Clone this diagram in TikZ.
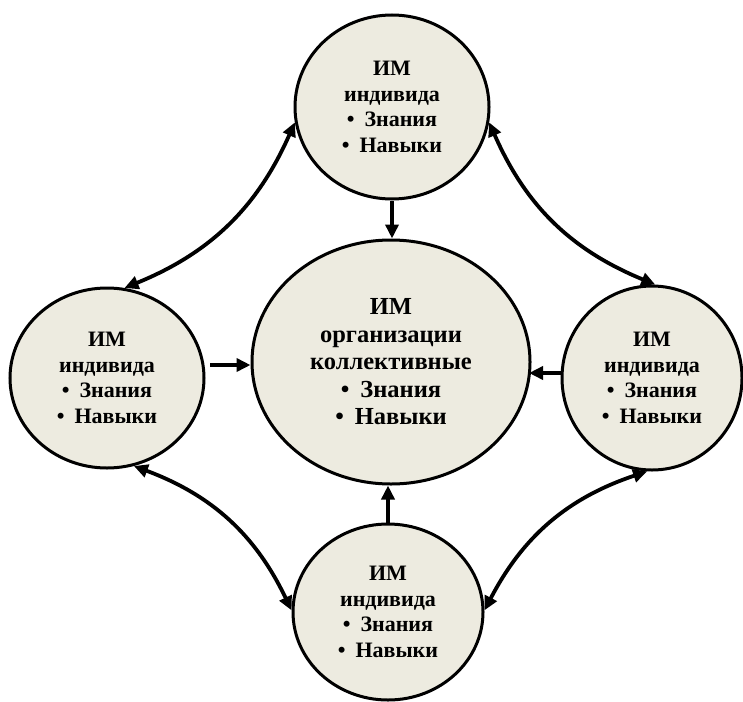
\documentclass[tikz,border=0pt]{standalone}
\usepackage{fontspec}
\setmainfont{Liberation Serif}
\usetikzlibrary{arrows.meta,shapes.geometric}
\definecolor{beige}{RGB}{237,235,224}
\newcommand{\bul}{•\hspace{0.45em}}
\tikzset{
  bubble/.style={ellipse, draw=black, line width=3pt, fill=beige, inner sep=0pt,
    align=center, font=\bfseries\fontsize{22}{25.5}\selectfont},
  bigbubble/.style={bubble, font=\bfseries\fontsize{24.5}{27.5}\selectfont},
  arr/.style={line width=3.8pt, -{Triangle[length=14pt,width=13pt]}},
  darr/.style={line width=3.8pt, {Triangle[length=14pt,width=13pt]}-{Triangle[length=14pt,width=13pt]}}
}
\begin{document}
\begin{tikzpicture}[x=1pt,y=-1pt]
\useasboundingbox (0,0) rectangle (743,701);
\node[bubble, minimum width=194pt, minimum height=184pt] (T) at (392,107)
  {ИМ\\индивида\\\bul Знания\\\bul Навыки};
\node[bigbubble, minimum width=278pt, minimum height=244pt] (C) at (391,362)
  {ИМ\\организации\\коллективные\\\bul Знания\\\bul Навыки};
\node[bubble, minimum width=194pt, minimum height=180pt] (L) at (107,378)
  {ИМ\\индивида\\\bul Знания\\\bul Навыки};
\node[bubble, minimum width=180pt, minimum height=184pt] (R) at (652,378)
  {ИМ\\индивида\\\bul Знания\\\bul Навыки};
\node[bubble, minimum width=190pt, minimum height=176pt] (B) at (388,612)
  {ИМ\\индивида\\\bul Знания\\\bul Навыки};
% straight arrows
\draw[arr] (T.south) -- (T.south |- C.north);
\coordinate (ls) at (210,365);
\draw[arr] (ls) -- (ls -| C.west);
\coordinate (rs) at (563,373);
\draw[arr] (rs) -- (529,373);
\draw[arr] (B.north) -- (B.north |- C.south);
% curved double arrows
\draw[darr] (L.79) to[bend right=22] (T.189);
\draw[darr] (T.351) to[bend right=22] (R.88);
\draw[darr] (L.287) to[bend left=22] (B.179);
\draw[darr] (B.1) to[bend left=22] (R.267);
\end{tikzpicture}
\end{document}
